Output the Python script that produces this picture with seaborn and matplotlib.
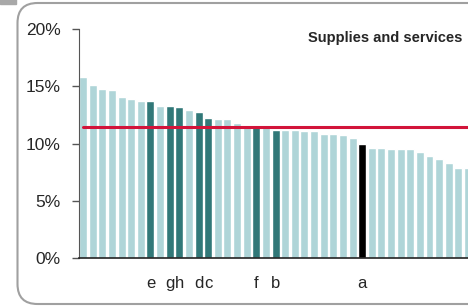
import matplotlib
matplotlib.use("Agg")
import matplotlib.pyplot as plt
from matplotlib.patches import FancyBboxPatch, Rectangle
import seaborn as sns
import pandas as pd
import numpy as np

# bar values (%), sorted descending
values = [15.8, 15.15, 14.8, 14.65, 14.05, 13.85, 13.75, 13.7, 13.3, 13.25,
          13.2, 12.95, 12.75, 12.25, 12.15, 12.1, 11.8, 11.5, 11.5, 11.4,
          11.2, 11.15, 11.15, 11.05, 11.05, 10.85, 10.8, 10.75, 10.45, 9.95,
          9.65, 9.6, 9.5, 9.5, 9.5, 9.3, 8.95, 8.65, 8.3, 7.9, 7.85]
# highlighted bars: label per position
highlight = {7: "e", 9: "g", 10: "h", 12: "d", 13: "c", 18: "f", 20: "b", 29: "a"}
average = 11.47
yticks = [0, 5, 10, 15, 20]

light = "#afd5d8"
dark = "#317878"
colors = []
labels = []
for i in range(len(values)):
    lab = highlight.get(i, "")
    labels.append(lab)
    if lab == "a":
        colors.append("black")
    elif lab:
        colors.append(dark)
    else:
        colors.append(light)

df = pd.DataFrame({"pos": range(len(values)), "val": values})

sns.set_style("white")
plt.rcParams['font.family'] = ['Liberation Sans', 'DejaVu Sans']

W, H = 468, 306
fig = plt.figure(figsize=(W / 100, H / 100), dpi=100)

# rounded frame and little grey tab (inches)
fig.patches.append(FancyBboxPatch((0.175, 0.02), 4.9, 3.01,
                                  boxstyle="round,pad=0,rounding_size=0.2",
                                  transform=fig.dpi_scale_trans, fill=False,
                                  edgecolor="#a0a0a0", lw=1.5, figure=fig))
fig.patches.append(Rectangle((0, 3.02), 0.16, 0.05, transform=fig.dpi_scale_trans,
                             color="#a8a8a8", figure=fig))

ax = fig.add_axes([79 / W, 1 - 258 / H, (468 - 79) / W, (258 - 29) / H])
sns.barplot(data=df, x="pos", y="val", hue="pos", palette=colors, legend=False,
            width=0.83, saturation=1, ax=ax)
ax.plot([0, 45], [average, average], color="#d2143a", lw=2.2, zorder=5)

ax.set_xlim(-0.42, -0.42 + (468 - 79) / 9.68)
ax.set_ylim(0, 20)
ax.set_yticks(yticks)
ax.set_yticklabels([f"{v}%" for v in yticks], fontsize=12.5)
ax.set_xticks(range(len(values)))
ax.set_xticklabels(labels, fontsize=12)
ax.tick_params(axis="x", length=0, pad=13)
ax.tick_params(axis="y", direction="out", length=5, width=1, color="#555555", pad=8, left=True)
ax.set_xlabel("")
ax.set_ylabel("")
for s in ["top", "right"]:
    ax.spines[s].set_visible(False)
ax.spines["left"].set_color("#555555")
ax.spines["bottom"].set_color("#222222")
ax.spines["bottom"].set_linewidth(1.2)

fig.text(462 / W, 1 - 38 / H, "Supplies and services", ha="right", va="center",
         fontsize=10.5, fontweight="bold")

fig.savefig("out.png", dpi=100)
